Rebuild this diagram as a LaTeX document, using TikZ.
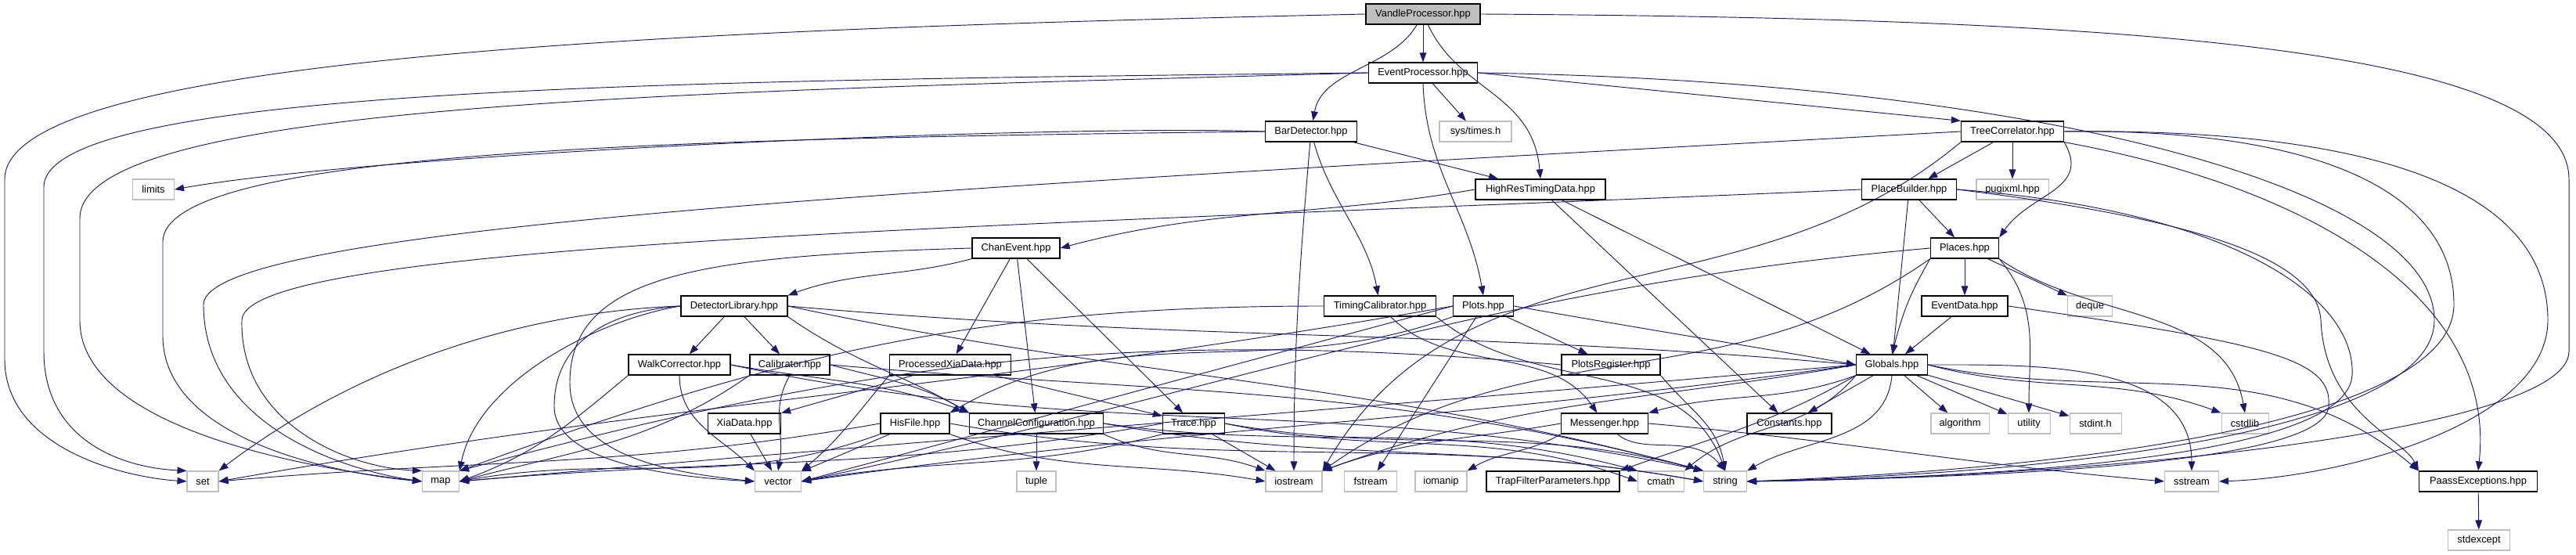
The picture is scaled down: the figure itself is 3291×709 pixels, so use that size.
\documentclass[tikz,border=0pt]{standalone}
\usepackage{fontspec}
\setmainfont{Liberation Sans}
\usepackage{tikz}
\usetikzlibrary{arrows.meta, positioning}
\definecolor{edgeblue}{RGB}{25,25,112}
\definecolor{sysgray}{RGB}{191,191,191}
\definecolor{rootgray}{RGB}{191,191,191}

\begin{document}
\begin{tikzpicture}[x=0.03cm, y=0.03cm,
  hdr/.style={draw=black, line width=1.1pt, fill=white, inner sep=0pt, minimum height=0.78cm, font=\fontsize{11}{13}\selectfont},
  sys/.style={hdr, draw=sysgray, line width=0.9pt},
  root/.style={hdr, fill=rootgray},
  inc/.style={draw=edgeblue, line width=0.8pt, -{Triangle[length=0.36cm, width=0.26cm]}}]
\useasboundingbox (0,0) rectangle (3291,709);
\node[root, minimum width=4.38cm] (vp) at (1818,691) {VandleProcessor.hpp};
\node[hdr, minimum width=4.17cm] (ep) at (1818,616) {EventProcessor.hpp};
\node[hdr, minimum width=3.51cm] (bar) at (1675,541) {BarDetector.hpp};
\node[sys, minimum width=2.76cm] (tms) at (1885,541) {sys/times.h};
\node[hdr, minimum width=3.93cm] (tree) at (2571,541) {TreeCorrelator.hpp};
\node[sys, minimum width=1.59cm] (lim) at (196,467) {limits};
\node[hdr, minimum width=4.98cm] (hrt) at (1968,467) {HighResTimingData.hpp};
\node[hdr, minimum width=3.63cm] (pb) at (2439,467) {PlaceBuilder.hpp};
\node[sys, minimum width=2.76cm] (pugi) at (2571,467) {pugixml.hpp};
\node[hdr, minimum width=3.36cm] (chan) at (1298,392) {ChanEvent.hpp};
\node[hdr, minimum width=2.61cm] (plc) at (2510,392) {Places.hpp};
\node[hdr, minimum width=4.08cm] (dlib) at (938,318) {DetectorLibrary.hpp};
\node[hdr, minimum width=4.29cm] (tcal) at (1763,318) {TimingCalibrator.hpp};
\node[hdr, minimum width=2.31cm] (plots) at (1895,318) {Plots.hpp};
\node[hdr, minimum width=3.30cm] (edat) at (2510,318) {EventData.hpp};
\node[sys, minimum width=1.71cm] (deq) at (2670,318) {deque};
\node[hdr, minimum width=3.90cm] (walk) at (868,243) {WalkCorrector.hpp};
\node[hdr, minimum width=3.06cm] (cal) at (1009,243) {Calibrator.hpp};
\node[hdr, minimum width=4.65cm] (pxd) at (1214,243) {ProcessedXiaData.hpp};
\node[hdr, minimum width=3.78cm] (preg) at (2058,243) {PlotsRegister.hpp};
\node[hdr, minimum width=2.73cm] (glob) at (2417,243) {Globals.hpp};
\node[hdr, minimum width=2.79cm] (xia) at (951,168) {XiaData.hpp};
\node[hdr, minimum width=2.64cm] (his) at (1169,168) {HisFile.hpp};
\node[hdr, minimum width=5.13cm] (ccfg) at (1324,168) {ChannelConfiguration.hpp};
\node[hdr, minimum width=2.37cm] (trace) at (1525,168) {Trace.hpp};
\node[hdr, minimum width=3.33cm] (msg) at (2050,168) {Messenger.hpp};
\node[hdr, minimum width=3.24cm] (const) at (2286,168) {Constants.hpp};
\node[sys, minimum width=2.22cm] (algo) at (2504,168) {algorithm};
\node[sys, minimum width=1.62cm] (util) at (2592,168) {utility};
\node[sys, minimum width=1.98cm] (sint) at (2677,168) {stdint.h};
\node[sys, minimum width=1.80cm] (cstd) at (2868,168) {cstdlib};
\node[sys, minimum width=1.20cm] (set) at (259,94) {set};
\node[sys, minimum width=1.41cm] (map) at (563,94) {map};
\node[sys, minimum width=1.77cm] (vec) at (994,94) {vector};
\node[sys, minimum width=1.50cm] (tup) at (1324,94) {tuple};
\node[sys, minimum width=2.16cm] (ios) at (1653,94) {iostream};
\node[sys, minimum width=2.01cm] (fst) at (1751,94) {fstream};
\node[sys, minimum width=1.98cm] (iom) at (1841,94) {iomanip};
\node[hdr, minimum width=5.10cm] (trap) at (1984,94) {TrapFilterParameters.hpp};
\node[sys, minimum width=1.77cm] (cmath) at (2122,94) {cmath};
\node[sys, minimum width=1.65cm] (str) at (2204,94) {string};
\node[sys, minimum width=2.07cm] (sst) at (2800,94) {sstream};
\node[hdr, minimum width=4.53cm] (pex) at (3166,94) {PaassExceptions.hpp};
\node[sys, minimum width=2.37cm] (sexc) at (3167,19) {stdexcept};
% VandleProcessor
\draw[inc] (vp.west) .. controls (900,672) and (6,640) .. (6,480) -- (6,250) .. controls (6,140) and (150,100) .. (set.west);
\draw[inc] (vp) -- (ep);
\draw[inc] (vp) .. controls +(-120:80) and +(80:80) .. (bar);
\draw[inc] (vp) .. controls +(-65:110) and +(95:110) .. (hrt.north);
\draw[inc] (vp.east) .. controls (2700,686) and (3282,650) .. (3282,480) -- (3282,260) .. controls (3282,160) and (2700,100) .. (str.east);
% EventProcessor
\draw[inc] (ep.west) .. controls (900,606) and (56,600) .. (56,470) -- (56,260) .. controls (56,150) and (150,112) .. (set.north west);
\draw[inc] (ep.west) .. controls (900,592) and (102,580) .. (102,430) -- (102,300) .. controls (102,160) and (400,110) .. (map.west);
\draw[inc] (ep) -- (tms);
\draw[inc] (ep.south) .. controls +(-88:110) and +(100:110) .. (plots.north);
\draw[inc] (ep.east) -- (tree.north west);
\draw[inc] (ep.east) .. controls (2600,605) and (3110,470) .. (3110,300) .. controls (3110,160) and (2650,105) .. (str.east);
% BarDetector
\draw[inc] (bar.west) .. controls +(178:270) and +(10:270) .. (lim.east);
\draw[inc] (bar.west) .. controls (900,532) and (208,520) .. (208,400) -- (208,280) .. controls (208,150) and (420,105) .. (map.west);
\draw[inc] (bar) .. controls +(-95:170) and +(90:170) .. (ios);
\draw[inc] (bar) .. controls +(-75:90) and +(100:90) .. (tcal);
\draw[inc] (bar) -- (hrt);
% TreeCorrelator
\draw[inc] (tree.west) .. controls (1200,470) and (262,420) .. (260,320) .. controls (260,170) and (430,110) .. (map.west);
\draw[inc] (tree.south west) .. controls +(-140:360) and +(60:360) .. (ios.north east);
\draw[inc] (tree) -- (pb);
\draw[inc] (tree) -- (pugi);
\draw[inc] (tree.south east) .. controls +(-60:70) and +(55:70) .. (plc.north east);
\draw[inc] (tree.east) .. controls (2950,545) and (3135,470) .. (3135,320) .. controls (3135,170) and (2650,110) .. (str.east);
\draw[inc] (tree.east) .. controls (3000,545) and (3255,480) .. (3255,300) .. controls (3255,170) and (3000,100) .. (sst.east);
\draw[inc] (tree.south east) .. controls (2950,470) and (3190,330) .. (pex.north);
% HighResTimingData
\draw[inc] (hrt.west) .. controls +(-170:200) and +(15:200) .. (chan.east);
\draw[inc] (hrt) -- (glob);
\draw[inc] (hrt) -- (const);
% PlaceBuilder
\draw[inc] (pb.west) .. controls (1300,420) and (312,400) .. (309,300) .. controls (306,170) and (440,112) .. (map.north west);
\draw[inc] (pb) -- (glob);
\draw[inc] (pb) -- (plc);
\draw[inc] (pb.east) .. controls (2850,440) and (3010,330) .. (3005,230) .. controls (3000,130) and (2600,100) .. (str.east);
\draw[inc] (pb.east) .. controls (2800,430) and (2960,380) .. (2965,300) .. controls (2970,180) and (3070,150) .. (pex.north west);
% ChanEvent
\draw[inc] (chan.west) .. controls (900,382) and (728,360) .. (728,220) .. controls (728,125) and (860,105) .. (vec.west);
\draw[inc] (chan.south west) .. controls +(-165:90) and +(20:90) .. (dlib.north east);
\draw[inc] (chan) -- (pxd);
\draw[inc] (chan) -- (ccfg);
\draw[inc] (chan) -- (trace);
% Places
\draw[inc] (plc.south west) .. controls +(-120:55) and +(75:55) .. (glob.north);
\draw[inc] (plc) -- (edat);
\draw[inc] (plc) -- (deq);
\draw[inc] (plc.south east) .. controls +(-50:80) and +(90:80) .. (util.north);
\draw[inc] (plc.south east) .. controls +(-35:140) and +(100:140) .. (cstd.north);
\draw[inc] (plc.west) .. controls +(185:570) and +(12:570) .. (vec.east);
\draw[inc] (plc.south west) .. controls +(-145:320) and +(35:320) .. (ios.north east);
% DetectorLibrary
\draw[inc] (dlib.west) .. controls (700,312) and (480,260) .. (set.north east);
\draw[inc] (dlib.west) .. controls (760,300) and (610,220) .. (map.north east);
\draw[inc] (dlib.west) .. controls (760,310) and (708,260) .. (708,190) .. controls (708,120) and (850,100) .. (vec.west);
\draw[inc] (dlib) -- (walk);
\draw[inc] (dlib) -- (cal);
\draw[inc] (dlib.south east) .. controls +(-35:100) and +(150:100) .. (ccfg.north west);
\draw[inc] (dlib.east) .. controls +(-5:530) and +(175:530) .. (glob.west);
\draw[inc] (dlib.east) .. controls +(-12:460) and +(165:460) .. (str.north west);
% TimingCalibrator, Plots, EventData
\draw[inc] (tcal.west) .. controls +(180:440) and +(20:440) .. (map.north east);
\draw[inc] (tcal) .. controls +(-45:125) and +(125:125) .. (msg);
\draw[inc] (tcal.south east) .. controls +(-40:160) and +(110:160) .. (str.north);
\draw[inc] (plots.south west) .. controls +(-160:250) and +(30:250) .. (his.north east);
\draw[inc] (plots) -- (fst);
\draw[inc] (plots) -- (preg);
\draw[inc] (plots.east) .. controls +(-10:170) and +(170:170) .. (glob.west);
\draw[inc] (plots.west) .. controls +(-170:600) and +(10:600) .. (set.east);
\draw[inc] (plots.west) .. controls +(-165:330) and +(15:330) .. (vec.east);
\draw[inc] (edat) -- (glob);
\draw[inc] (edat.east) .. controls (2900,270) and (2980,250) .. (2975,190) .. controls (2970,120) and (2600,100) .. (str.east);
% WalkCorrector, Calibrator, ProcessedXiaData, PlotsRegister
\draw[inc] (walk.south west) .. controls +(-140:100) and +(20:100) .. (map.east);
\draw[inc] (walk.south) .. controls +(-90:60) and +(135:60) .. (vec.north west);
\draw[inc] (walk.east) .. controls +(-10:120) and +(160:120) .. (ccfg.north west);
\draw[inc] (walk.east) .. controls +(-12:480) and +(168:480) .. (str.north west);
\draw[inc] (cal.south west) .. controls +(-145:150) and +(15:150) .. (map.east);
\draw[inc] (cal.south) .. controls +(-120:50) and +(80:50) .. (vec.north);
\draw[inc] (cal.east) .. controls +(-15:75) and +(150:75) .. (ccfg.north west);
\draw[inc] (cal.east) .. controls +(-5:430) and +(165:430) .. (str.north west);
\draw[inc] (pxd) -- (xia);
\draw[inc] (pxd) -- (trace);
\draw[inc] (pxd.south west) .. controls +(-130:65) and +(40:65) .. (vec.north east);
\draw[inc] (preg.west) .. controls +(175:550) and +(15:550) .. (map.north east);
\draw[inc] (preg.south east) .. controls +(-50:60) and +(100:60) .. (str.north);
% Globals
\draw[inc] (glob) -- (const);
\draw[inc] (glob) -- (algo);
\draw[inc] (glob) -- (util);
\draw[inc] (glob) -- (sint);
\draw[inc] (glob.east) .. controls +(-15:145) and +(160:145) .. (cstd.north west);
\draw[inc] (glob.east) .. controls +(0:140) and +(90:140) .. (sst.north);
\draw[inc] (glob.east) .. controls +(-12:250) and +(140:250) .. (pex.north west);
\draw[inc] (glob.south) .. controls +(-95:85) and +(30:85) .. (str.north east);
\draw[inc] (glob.south west) .. controls +(-160:105) and +(15:105) .. (msg.north east);
\draw[inc] (glob.west) .. controls +(-170:270) and +(20:270) .. (ios.north east);
\draw[inc] (glob.west) .. controls +(-175:680) and +(5:680) .. (map.east);
\draw[inc] (glob.west) .. controls +(-172:520) and +(8:520) .. (vec.east);
\draw[inc] (glob.south west) .. controls +(-130:100) and +(40:100) .. (cmath.north east);
\draw[inc] (glob.south west) .. controls +(-150:125) and +(20:125) .. (trap.north east);
% bottom row
\draw[inc] (xia) -- (vec);
\draw[inc] (his.west) .. controls +(-170:330) and +(5:330) .. (set.east);
\draw[inc] (his.south west) .. controls +(-160:210) and +(10:210) .. (map.east);
\draw[inc] (his) -- (vec);
\draw[inc] (his.south east) .. controls +(-20:155) and +(170:155) .. (ios.west);
\draw[inc] (his.east) .. controls +(-10:370) and +(170:370) .. (str.west);
\draw[inc] (ccfg) -- (tup);
\draw[inc] (ccfg.south east) .. controls +(-25:80) and +(160:80) .. (ios.north west);
\draw[inc] (ccfg.east) .. controls +(-10:300) and +(170:300) .. (str.west);
\draw[inc] (ccfg.east) .. controls +(-8:265) and +(165:265) .. (cmath.north west);
\draw[inc] (trace) -- (ios);
\draw[inc] (trace.south west) .. controls +(-165:180) and +(10:180) .. (vec.east);
\draw[inc] (trace.west) .. controls +(-170:350) and +(5:350) .. (map.east);
\draw[inc] (trace.east) .. controls +(-10:240) and +(165:240) .. (str.north west);
\draw[inc] (trace.east) .. controls +(-12:205) and +(160:205) .. (cmath.west);
\draw[inc] (msg.west) .. controls +(-170:120) and +(20:120) .. (ios.north east);
\draw[inc] (msg.south west) .. controls +(-150:50) and +(30:50) .. (iom.north east);
\draw[inc] (msg.east) .. controls +(-5:255) and +(175:255) .. (sst.west);
\draw[inc] (msg) .. controls +(-40:65) and +(130:65) .. (str.north);
\draw[inc] (pex) -- (sexc);
\end{tikzpicture}
\end{document}
